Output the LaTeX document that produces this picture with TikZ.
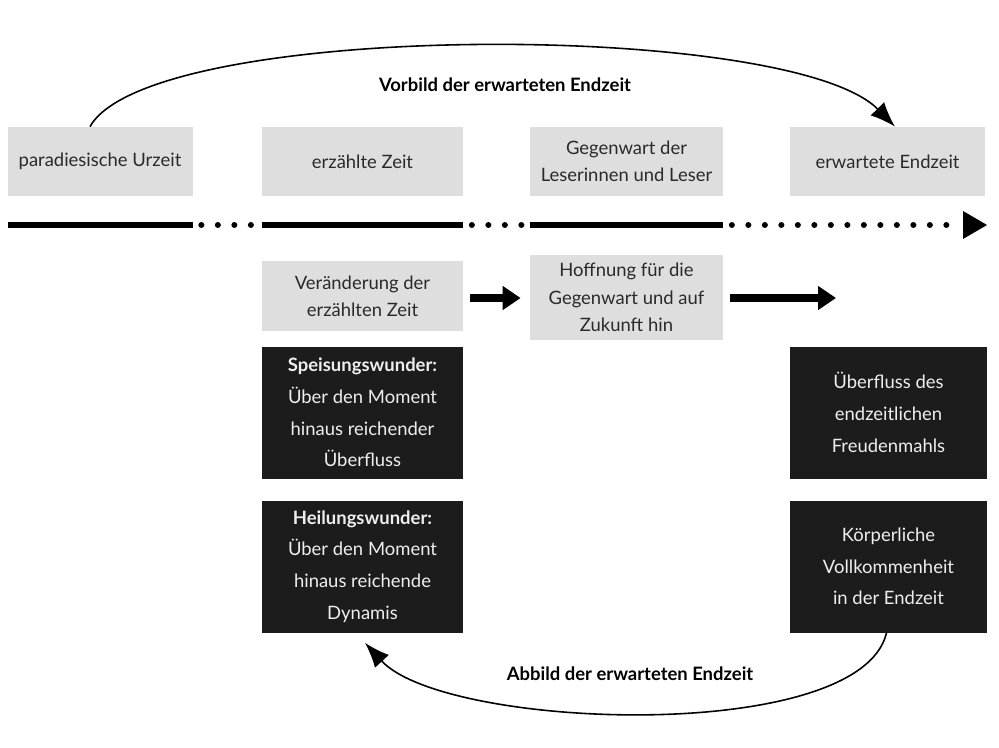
\documentclass[tikz,border=0pt]{standalone}
\usepackage{fontspec}
\setmainfont{Lato}
\usepackage{tikz}
\usetikzlibrary{arrows.meta, positioning}

\definecolor{boxgrey}{HTML}{DEDEDE}
\definecolor{boxdark}{HTML}{1C1C1C}
\definecolor{textdark}{HTML}{2A2A2A}
\definecolor{textlight}{HTML}{EEEEEE}

\tikzset{
	greybox/.style={shape=rectangle, fill=boxgrey, text=textdark, align=center, inner sep=2pt, minimum height=1.38cm, font=\fontsize{10.5}{15.5}\selectfont},
	darkbox/.style={shape=rectangle, fill=boxdark, text=textlight, align=center, inner sep=2pt, minimum height=2.64cm, font=\fontsize{10.5}{18}\selectfont},
	timeline/.style={line width=0.13cm},
	timedots/.style={line width=0.12cm, line cap=round, dash pattern=on 0pt off 0.33cm},
	bigarrow/.style={line width=0.15cm, -{Triangle[length=0.36cm, width=0.46cm]}},
	arc/.style={line width=0.9pt, -{Latex[length=0.5cm, width=0.38cm]}},
	arclabel/.style={font=\bfseries\fontsize{10.5}{12}\selectfont, text=black}
}

\begin{document}
\begin{tikzpicture}
	\useasboundingbox (0, 0) rectangle (19.98, -14.96);
	% Boxes of the upper row:
	\node[greybox, minimum width=3.70cm](urzeit) at (2.00, -3.23){paradiesische Urzeit};
	\node[greybox, minimum width=4.02cm](erzaehlt) at (7.25, -3.23){erzählte Zeit};
	\node[greybox, minimum width=3.86cm](gegenwart) at (12.53, -3.23){Gegenwart der\\Leserinnen und Leser};
	\node[greybox, minimum width=3.90cm](endzeit) at (17.75, -3.23){erwartete Endzeit};
	% Time line:
	\coordinate (T0) at (0.16, -4.50);
	\coordinate (T1) at (19.74, -4.50);
	\draw[timeline] (T0) -- (urzeit.east |- T0);
	\draw[timeline] (erzaehlt.west |- T0) -- (erzaehlt.east |- T0);
	\draw[timeline] (gegenwart.west |- T0) -- (gegenwart.east |- T0);
	\draw[timedots] ([xshift=0.17cm]urzeit.east |- T0) -- ([xshift=-0.1cm]erzaehlt.west |- T0);
	\draw[timedots] ([xshift=0.17cm]erzaehlt.east |- T0) -- ([xshift=-0.1cm]gegenwart.west |- T0);
	\draw[timedots] ([xshift=0.17cm]gegenwart.east |- T0) -- (19.10, -4.50);
	\fill ([xshift=-0.48cm]T1) -- ++(0, 0.28) -- (T1) -- ([xshift=-0.48cm, yshift=-0.28cm]T1) -- cycle;
	% Boxes of the middle row:
	\node[greybox, minimum width=4.02cm](veraenderung) at (7.25, -5.92){Veränderung der\\erzählten Zeit};
	\node[greybox, minimum width=3.86cm, minimum height=1.70cm](hoffnung) at (12.53, -5.95){Hoffnung für die\\Gegenwart und auf\\Zukunft hin};
	\coordinate (A1) at (16.72, -5.96);
	\draw[bigarrow] ([xshift=0.14cm]veraenderung.east |- A1) -- ([xshift=-0.18cm]hoffnung.west |- A1);
	\draw[bigarrow] ([xshift=0.14cm]hoffnung.east |- A1) -- (A1);
	% Dark boxes:
	\node[darkbox, minimum width=4.02cm](speisung) at (7.25, -8.25){\textbf{Speisungswunder:}\\Über den Moment\\hinaus reichender\\Überfluss};
	\node[darkbox, minimum width=4.02cm](heilung) at (7.25, -11.33){\textbf{Heilungswunder:}\\Über den Moment\\hinaus reichende\\Dynamis};
	\node[darkbox, minimum width=3.94cm](mahl) at (17.77, -8.25){Überfluss des\\endzeitlichen\\Freudenmahls};
	\node[darkbox, minimum width=3.94cm](koerper) at (17.77, -11.33){Körperliche\\Vollkommenheit\\in der Endzeit};
	% Arcs:
	\draw[arc] ([xshift=-0.2cm]urzeit.north) .. controls (3.0, -0.40) and (15.8, -0.40) .. ([xshift=0.15cm]endzeit.north);
	\node[arclabel](vorbild) at (10.10, -1.70){Vorbild der erwarteten Endzeit};
	\draw[arc] ([xshift=-0.04cm]koerper.south) .. controls (17.2, -14.9) and (8.9, -14.6) .. ([xshift=0.05cm, yshift=-0.2cm]heilung.south);
	\node[arclabel](abbild) at (12.60, -13.48){Abbild der erwarteten Endzeit};
\end{tikzpicture}
\end{document}
